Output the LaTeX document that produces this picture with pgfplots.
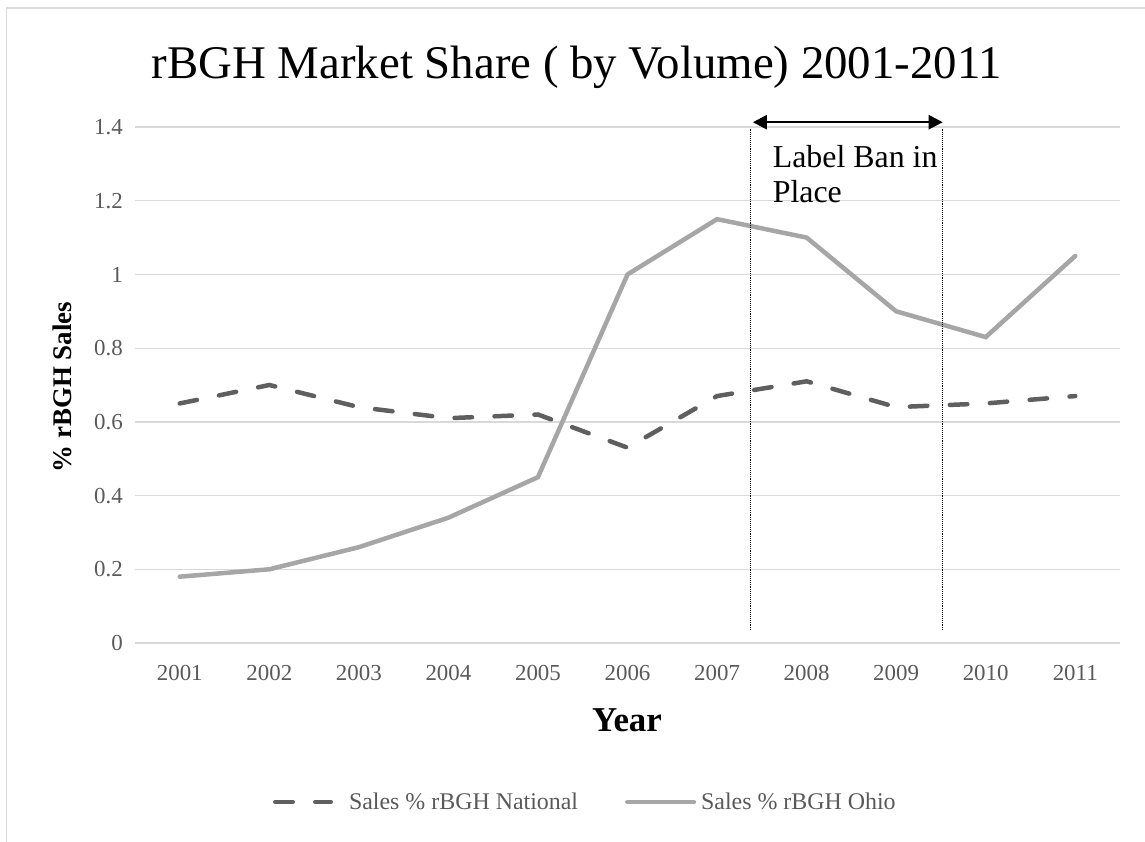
\documentclass[border=0pt]{standalone}
\usepackage{fontspec}
\setmainfont{Liberation Serif}
\usepackage{pgfplots}
\pgfplotsset{compat=1.18}
\usetikzlibrary{arrows.meta}
\definecolor{natc}{HTML}{5F5F5F}
\definecolor{ohic}{HTML}{A6A6A6}
\definecolor{gridc}{HTML}{D9D9D9}
\definecolor{tickc}{HTML}{595959}
\pgfplotsset{
  natleg/.style={legend image code/.code={\path[draw=none,fill=none] (0bp,-2bp) rectangle (76bp,2bp); \draw[natc, line width=4.5bp, line cap=round, dash pattern=on 17.5bp off 22.5bp] (2.25bp,0bp) -- (57.75bp,0bp);}},
  ohileg/.style={legend image code/.code={\path[draw=none,fill=none] (0bp,-2bp) rectangle (76bp,2bp); \draw[ohic, line width=4.5bp, line cap=round, solid] (2.25bp,0bp) -- (68.75bp,0bp);}},
}
\begin{document}
\begin{tikzpicture}[x=1bp,y=1bp]
\path[use as bounding box] (0,0) rectangle (1145,-842);
\draw[gridc, line width=1.8bp] (6.5,-842) -- (6.5,-8) -- (1145,-8);
\node[anchor=base, inner sep=0pt, font=\fontsize{47}{52}\selectfont] at (577,-78) {rBGH Market Share ( by Volume) 2001-2011};
\begin{axis}[
  at={(135bp,-643bp)}, anchor=south west,
  scale only axis, width=985bp, height=516bp,
  xmin=2000.5, xmax=2011.5, ymin=0, ymax=1.4,
  xtick={2001,2002,2003,2004,2005,2006,2007,2008,2009,2010,2011},
  ytick={0,0.2,0.4,0.6,0.8,1,1.2,1.4},
  yticklabels={0,0.2,0.4,0.6,0.8,1,1.2,1.4},
  xticklabel style={/pgf/number format/1000 sep={}, anchor=north, yshift=-22bp, inner sep=0pt},
  yticklabel style={anchor=east, xshift=-12bp, inner sep=0pt},
  /pgf/number format/assume math mode=true,
  tick label style={font=\fontsize{23}{26}\selectfont, text=tickc},
  major tick length=0pt,
  axis line style={draw=none},
  ymajorgrids, grid style={gridc, line width=1.3bp},
  clip=false,
  xlabel={Year},
  xlabel style={at={(axis description cs:0.4995,-0.1707)}, anchor=base, inner sep=0pt, font=\bfseries\fontsize{35}{40}\selectfont},
  ylabel={\% rBGH Sales},
  ylabel style={at={(axis description cs:-0.0741,0.496)}, anchor=center, rotate=0, inner sep=0pt, font=\bfseries\fontsize{27}{30}\selectfont},
  legend columns=2,
  legend style={at={(axis description cs:0.1401,-0.308)}, anchor=west, draw=none, fill=none, inner sep=0pt, outer sep=0pt,
     font=\fontsize{24}{27}\selectfont, text=tickc, nodes={inner sep=0pt},
     /tikz/every even column/.append style={column sep=47bp}},
]
\addplot[natc, line width=4.5bp, line cap=round, dash pattern=on 17.5bp off 22.5bp, natleg]
coordinates {(2001,0.65) (2002,0.70) (2003,0.64) (2004,0.61) (2005,0.62) (2006,0.53) (2007,0.67) (2008,0.71) (2009,0.64) (2010,0.65) (2011,0.67)};
\addlegendentry{Sales \% rBGH National}
\addplot[ohic, line width=4.5bp, line cap=round, ohileg]
coordinates {(2001,0.18) (2002,0.20) (2003,0.26) (2004,0.34) (2005,0.45) (2006,1.00) (2007,1.15) (2008,1.10) (2009,0.90) (2010,0.83) (2011,1.05)};
\addlegendentry{Sales \% rBGH Ohio}
\draw[black, densely dotted, line width=0.9bp] (axis cs:2007.375,0.035) -- (axis cs:2007.375,1.397);
\draw[black, densely dotted, line width=0.9bp] (axis cs:2009.52,0.035) -- (axis cs:2009.52,1.397);
\draw[{Triangle[length=14bp,width=14bp]}-{Triangle[length=14bp,width=14bp]}, line width=2.5bp] (axis cs:2007.40,1.413) -- (axis cs:2009.52,1.413);
\node[anchor=north west, inner sep=0pt, align=left, font=\fontsize{32}{35}\selectfont] at (axis cs:2007.62,1.351) {Label Ban in\\Place};
\end{axis}
\end{tikzpicture}
\end{document}
